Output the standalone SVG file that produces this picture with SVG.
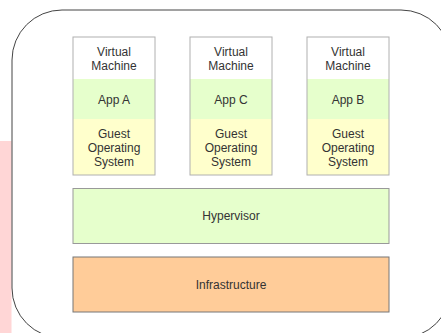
<svg xmlns="http://www.w3.org/2000/svg" width="441" height="333" viewBox="0 0 441 333">
<style>
text{font-family:"Liberation Sans",Arial,sans-serif;font-size:12px;fill:#333;text-anchor:middle}
.vm{fill:none;stroke:#b0b0b0;stroke-width:1}
.w{fill:#ffffff}
.g{fill:#e6ffcc}
.y{fill:#ffffcc}
.hv{fill:#e6ffcc;stroke:#999;stroke-width:1}
.inf{fill:#ffcc99;stroke:#777;stroke-width:1}
</style>
<rect x="0" y="0" width="441" height="333" fill="#fff"/>
<rect id="pink" x="0" y="141" width="11.5" height="192" fill="#ffd6d6"/>
<rect id="frame" x="12" y="10" width="439" height="328" rx="50" ry="50" fill="#fff" stroke="#444" stroke-width="1"/>
<g id="vmA">
<rect class="w" x="73" y="37" width="82" height="42"/>
<rect class="g" x="73" y="79" width="82" height="40"/>
<rect class="y" x="73" y="119" width="82" height="56"/>
<rect class="vm" x="73" y="37" width="82" height="138"/>
<text x="114" y="56">Virtual</text><text x="114" y="70">Machine</text>
<text x="114" y="103.5">App A</text>
<text x="114" y="137.5">Guest</text><text x="114" y="151.5">Operating</text><text x="114" y="165.5">System</text>
</g>
<g id="vmC">
<rect class="w" x="190" y="37" width="82" height="42"/>
<rect class="g" x="190" y="79" width="82" height="40"/>
<rect class="y" x="190" y="119" width="82" height="56"/>
<rect class="vm" x="190" y="37" width="82" height="138"/>
<text x="231" y="56">Virtual</text><text x="231" y="70">Machine</text>
<text x="231" y="103.5">App C</text>
<text x="231" y="137.5">Guest</text><text x="231" y="151.5">Operating</text><text x="231" y="165.5">System</text>
</g>
<g id="vmB">
<rect class="w" x="307" y="37" width="82" height="42"/>
<rect class="g" x="307" y="79" width="82" height="40"/>
<rect class="y" x="307" y="119" width="82" height="56"/>
<rect class="vm" x="307" y="37" width="82" height="138"/>
<text x="348" y="56">Virtual</text><text x="348" y="70">Machine</text>
<text x="348" y="103.5">App B</text>
<text x="348" y="137.5">Guest</text><text x="348" y="151.5">Operating</text><text x="348" y="165.5">System</text>
</g>
<g id="hypervisor">
<rect class="hv" x="73" y="188.5" width="316" height="55"/>
<text x="231" y="219.5">Hypervisor</text>
</g>
<g id="infrastructure">
<rect class="inf" x="73" y="257" width="316" height="55"/>
<text x="231" y="288.5">Infrastructure</text>
</g>
<g id="connectors"/>
</svg>
